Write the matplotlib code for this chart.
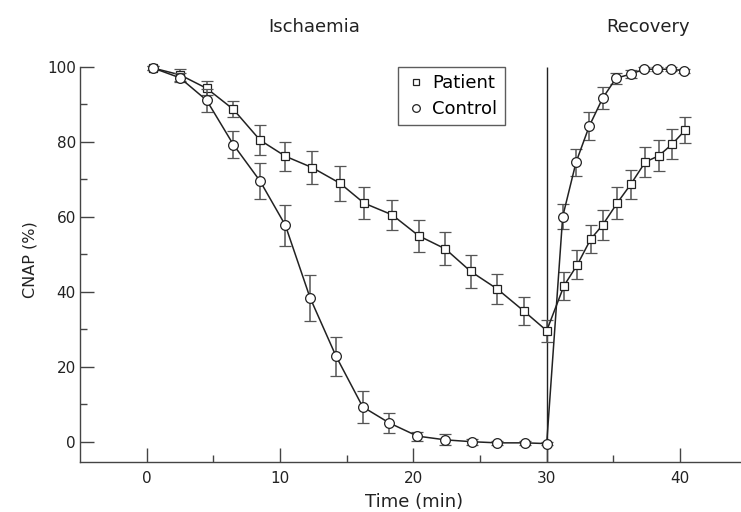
import matplotlib
matplotlib.use("Agg")
import matplotlib.pyplot as plt
from matplotlib.lines import Line2D
from matplotlib.ticker import FixedLocator

# ===========================
# DATA
# ===========================

patient_time = [0.5, 2.5, 4.5, 6.5, 8.5, 10.4, 12.4, 14.5, 16.3, 18.4, 20.4, 22.4, 24.3,
                26.3, 28.3, 30.0, 31.3, 32.3, 33.3, 34.2, 35.3, 36.3, 37.4, 38.4, 39.4, 40.4]
patient_cnap = [99.6, 97.8, 94.2, 88.6, 80.4, 76.1, 73.1, 68.9, 63.6, 60.5, 54.9, 51.4, 45.4,
                40.7, 34.8, 29.6, 41.6, 47.2, 54.0, 57.8, 63.7, 68.6, 74.6, 76.2, 79.3, 83.1]
patient_err = [0.5, 1.6, 1.9, 2.1, 3.9, 3.9, 4.3, 4.6, 4.3, 4.0, 4.2, 4.4, 4.4,
               4.0, 3.7, 2.9, 3.7, 3.8, 3.8, 3.9, 4.2, 3.9, 3.9, 4.1, 4.0, 3.5]

control_time = [0.5, 2.5, 4.5, 6.5, 8.5, 10.4, 12.25, 14.2, 16.2, 18.2, 20.3, 22.4, 24.4,
                26.3, 28.4, 30.0, 31.2, 32.2, 33.2, 34.2, 35.2, 36.3, 37.3, 38.3, 39.3, 40.3]
control_cnap = [99.6, 97.0, 91.0, 79.2, 69.5, 57.7, 38.4, 22.8, 9.3, 5.0, 1.5, 0.5, 0.0,
                -0.3, -0.3, -0.5, 60.0, 74.5, 84.2, 91.6, 96.9, 98.0, 99.3, 99.3, 99.3, 98.9]
control_err = [0.5, 1.2, 3.0, 3.6, 4.9, 5.5, 6.1, 5.2, 4.2, 2.6, 1.2, 1.5, 0.8,
               0.5, 0.5, 0.5, 3.3, 3.6, 3.7, 2.9, 1.5, 1.0, 0.5, 0.5, 0.5, 0.5]

x_ticks = [0, 10, 20, 30, 40]
x_minor = [5, 15, 25, 35]
y_ticks = [0, 20, 40, 60, 80, 100]
y_minor = [10, 30, 50, 70, 90]
ischaemia_end = 30

# ===========================
# PLOT
# ===========================

plt.rcParams["font.family"] = ["DejaVu Sans"]

LINE = "#222222"
ERR = "#555555"
TXT = "#222222"

fig = plt.figure(figsize=(7.41, 5.12), dpi=100)
ax = fig.add_axes([0.108, 0.0982, 0.8907, 0.845])
ax.set_xlim(-5, 44.5)
ax.set_ylim(-5.33, 110)

# end of ischaemia marker
ax.vlines(ischaemia_end, ax.get_ylim()[0], 100, color=LINE, lw=1.0, zorder=1)

common = dict(color=LINE, ecolor=ERR, elinewidth=1.1, capsize=4.5, capthick=1.1,
              lw=1.1, mfc="white", mec=LINE, mew=0.9)
ax.errorbar(patient_time, patient_cnap, yerr=patient_err, marker="s", ms=6,
            zorder=3, **common)
ax.errorbar(control_time, control_cnap, yerr=control_err, marker="o", ms=7,
            zorder=4, **common)

# axes styling
for side in ["top", "right"]:
    ax.spines[side].set_visible(False)
for side in ["left", "bottom"]:
    ax.spines[side].set_color("#444444")
    ax.spines[side].set_linewidth(1.0)
ax.spines["left"].set_bounds(ax.get_ylim()[0], 100)

ax.set_xticks(x_ticks)
ax.set_yticks(y_ticks)
ax.xaxis.set_minor_locator(FixedLocator(x_minor))
ax.yaxis.set_minor_locator(FixedLocator(y_minor))
ax.tick_params(which="both", direction="in", color="#444444", width=1.0,
               labelsize=11, labelcolor=TXT)
ax.tick_params(which="major", length=10)
ax.tick_params(which="minor", length=5)
ax.tick_params(axis="x", pad=7)
ax.tick_params(axis="y", pad=3)

ax.set_xlabel("Time (min)", fontsize=13, color=TXT, va="baseline")
ax.xaxis.set_label_coords(0.506, -0.1047)
ax.set_ylabel("CNAP (%)", fontsize=11.5, color=TXT, va="center")
ax.yaxis.set_label_coords(-0.0758, 0.466)

fig.text(314 / 741, 1 - 31.7 / 512, "Ischaemia", ha="center", va="baseline",
         fontsize=13, color=TXT)
fig.text(647.7 / 741, 1 - 32.5 / 512, "Recovery", ha="center", va="baseline",
         fontsize=13, color=TXT)

handles = [
    Line2D([], [], ls="none", marker="s", ms=5, mfc="white", mec=LINE, mew=0.9),
    Line2D([], [], ls="none", marker="o", ms=5.5, mfc="white", mec=LINE, mew=0.9),
]
leg = ax.legend(handles, ["Patient", "Control"], loc="upper left",
                bbox_to_anchor=(0.482, 0.913), borderaxespad=0,
                fancybox=False, frameon=True, fontsize=13,
                handlelength=1.2, handletextpad=0.3, borderpad=0.4,
                labelspacing=0.45)
leg.get_frame().set_edgecolor("#333333")
leg.get_frame().set_linewidth(1.0)

plt.savefig("out.png", dpi=100)
